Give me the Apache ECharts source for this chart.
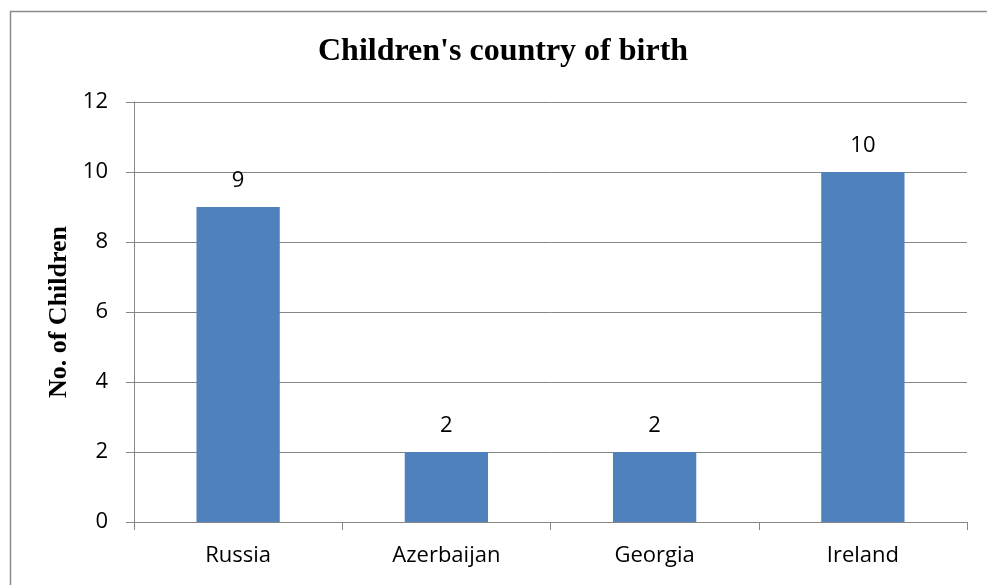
<!DOCTYPE html>
<html>
<head>
<meta charset="utf-8">
<script src="https://cdn.jsdelivr.net/npm/echarts@6/dist/echarts.min.js"></script>
<style>
  html, body { margin: 0; padding: 0; background: #fff; }
  #chart { width: 987px; height: 585px; }
</style>
</head>
<body>
<div id="chart"></div>
<script>
// Country of birth for the children in the group
const countries = ['Russia', 'Azerbaijan', 'Georgia', 'Ireland'];
const childCounts = [9, 2, 2, 10];
const yTicks = { min: 0, max: 12, step: 2 };

const labelFont = '"Open Sans", "Noto Sans", sans-serif';
const serifFont = '"Liberation Serif", "DejaVu Serif", serif';
const gridGray = '#868686';

const chart = echarts.init(document.getElementById('chart'), null, { renderer: 'canvas' });
chart.setOption({
  animation: false,
  backgroundColor: '#ffffff',
  graphic: [{
    type: 'rect',
    shape: { x: 10.5, y: 11.5, width: 1000, height: 1000 },
    style: { fill: 'none', stroke: '#8c8c8c', lineWidth: 1.5 },
    silent: true
  }],
  title: {
    text: "Children's country of birth",
    left: 313,
    top: 31,
    textStyle: { fontFamily: serifFont, fontWeight: 'bold', fontSize: 32, color: '#000' }
  },
  grid: { left: 134, right: 20, top: 102, bottom: 63 },
  xAxis: {
    type: 'category',
    data: countries,
    boundaryGap: true,
    axisLine: { show: true, lineStyle: { color: gridGray, width: 1 } },
    axisTick: { show: true, alignWithLabel: false, inside: false, length: 8, lineStyle: { color: gridGray } },
    axisLabel: { margin: 23, fontFamily: labelFont, fontSize: 22, color: '#000' },
    splitLine: { show: false }
  },
  yAxis: {
    type: 'value',
    min: yTicks.min,
    max: yTicks.max,
    interval: yTicks.step,
    name: 'No. of Children',
    nameLocation: 'middle',
    nameRotate: 90,
    nameGap: 50,
    nameTextStyle: { fontFamily: serifFont, fontWeight: 'bold', fontSize: 26, color: '#000' },
    axisLine: { show: true, lineStyle: { color: gridGray, width: 1 } },
    axisTick: { show: true, inside: false, length: 8, lineStyle: { color: gridGray } },
    axisLabel: { margin: 26, fontFamily: labelFont, fontSize: 22, color: '#000' },
    splitLine: { show: true, lineStyle: { color: gridGray, width: 1 } }
  },
  series: [{
    type: 'bar',
    data: childCounts,
    barWidth: '40%',
    itemStyle: { color: '#4f81bd' },
    label: {
      show: true,
      position: 'top',
      distance: 15,
      fontFamily: labelFont,
      fontSize: 22,
      color: '#000'
    }
  }]
});
</script>
</body>
</html>
